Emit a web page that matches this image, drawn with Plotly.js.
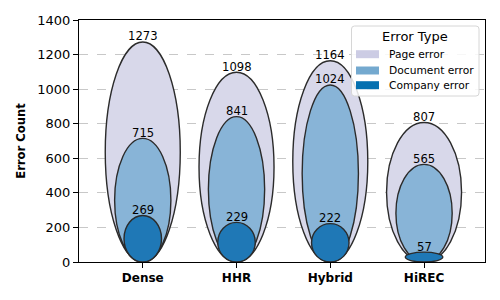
<!DOCTYPE html>
<html><head><meta charset="utf-8">
<script src="https://cdn.plot.ly/plotly-3.0.1.min.js"></script>
<style>body{margin:0;}#chart{width:500px;height:300px;}</style>
</head><body><div id="chart"></div>
<script>
const categories = ["Dense", "HHR", "Hybrid", "HiREC"];
const pageErrors = [1273, 1098, 1164, 807];
const documentErrors = [715, 841, 1024, 565];
const companyErrors = [269, 229, 222, 57];
const seriesNames = ["Page error", "Document error", "Company error"];
const legendTitle = "Error Type";

const seriesData = [pageErrors, documentErrors, companyErrors];
const widths = [0.8, 0.6, 0.4];
const fills = ["#d8d8ea", "#88b4d7", "#1f78b6"];
const legendFills = ["#cccce4", "#74a9cf", "#0570b0"];

// plot area in pixels (for legend placement in paper coords)
const PL = 79, PR = 485, PT = 20, PB = 262;
const px = v => (v - PL) / (PR - PL);
const py = v => (PB - v) / (PB - PT);

const shapes = [];
const annotations = [];
seriesData.forEach((vals, s) => {
  vals.forEach((v, i) => {
    shapes.push({type: "circle", xref: "x", yref: "y", layer: "above",
      x0: i - widths[s] / 2, x1: i + widths[s] / 2, y0: 0, y1: v,
      fillcolor: fills[s], line: {color: "#2b2b2b", width: 1.4}});
    annotations.push({x: i, y: v, xref: "x", yref: "y", text: String(v),
      showarrow: false, yanchor: "bottom", yshift: -3.5,
      font: {family: "DejaVu Sans", size: 11.6, color: "#000"}});
  });
});

// custom legend (matplotlib-style)
const bx0 = 351.5, bx1 = 479, by0 = 26, by1 = 96, r = 3;
const path = `M${px(bx0 + r)},${py(by0)} L${px(bx1 - r)},${py(by0)} Q${px(bx1)},${py(by0)} ${px(bx1)},${py(by0 + r)} ` +
  `L${px(bx1)},${py(by1 - r)} Q${px(bx1)},${py(by1)} ${px(bx1 - r)},${py(by1)} ` +
  `L${px(bx0 + r)},${py(by1)} Q${px(bx0)},${py(by1)} ${px(bx0)},${py(by1 - r)} ` +
  `L${px(bx0)},${py(by0 + r)} Q${px(bx0)},${py(by0)} ${px(bx0 + r)},${py(by0)} Z`;
shapes.push({type: "path", xref: "paper", yref: "paper", layer: "above", path: path,
  fillcolor: "rgba(255,255,255,0.85)", line: {color: "#d6d6d6", width: 1}});
annotations.push({xref: "paper", yref: "paper", x: px(415), y: py(36), text: legendTitle,
  showarrow: false, xanchor: "center", yanchor: "middle",
  font: {family: "DejaVu Sans", size: 13, color: "#000"}});
const rowY = [54.2, 70.5, 85.2];
seriesNames.forEach((n, s) => {
  shapes.push({type: "rect", xref: "paper", yref: "paper", layer: "above",
    x0: px(356), x1: px(379), y0: py(rowY[s] + 4), y1: py(rowY[s] - 4),
    fillcolor: legendFills[s], line: {width: 0}});
  annotations.push({xref: "paper", yref: "paper", x: px(387), y: py(rowY[s]), text: n,
    showarrow: false, xanchor: "left", yanchor: "middle",
    font: {family: "DejaVu Sans", size: 10.7, color: "#000"}});
});

const traces = [{type: "scatter", x: [0, 3], y: [0, 0], mode: "none", showlegend: false, hoverinfo: "skip"}];

const layout = {
  width: 500, height: 300,
  margin: {l: 79, r: 15, t: 20, b: 38},
  paper_bgcolor: "#fff", plot_bgcolor: "#fff",
  font: {family: "DejaVu Sans", size: 13, color: "#000"},
  showlegend: false,
  xaxis: {range: [-0.68, 3.65], tickvals: [0, 1, 2, 3], ticktext: categories.map(c => "<b>" + c + "</b>"),
    showgrid: false, zeroline: false, showline: true, mirror: true, linecolor: "#000", linewidth: 1,
    ticks: "outside", ticklen: 5, tickcolor: "#000", tickfont: {size: 12}},
  yaxis: {range: [0, 1400], dtick: 200, showgrid: true, gridcolor: "#c8c8c8", griddash: "dash", gridwidth: 1,
    zeroline: false, showline: true, mirror: true, linecolor: "#000", linewidth: 1,
    ticks: "outside", ticklen: 5, tickcolor: "#000", tickfont: {size: 13},
    title: {text: "<b>Error Count</b>", font: {size: 11.6}, standoff: 9}},
  shapes: shapes,
  annotations: annotations
};
Plotly.newPlot("chart", traces, layout, {displayModeBar: false, staticPlot: true});
</script></body></html>
